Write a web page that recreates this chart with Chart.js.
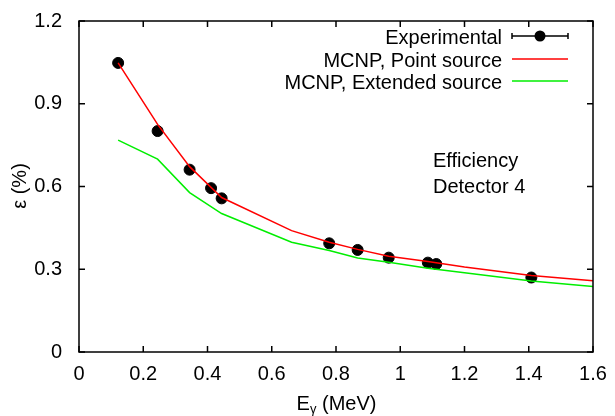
<!DOCTYPE html>
<html>
<head>
<meta charset="utf-8">
<script src="https://cdn.jsdelivr.net/npm/chart.js@4"></script>
<style>
  html, body { margin: 0; padding: 0; background: #fff; }
  #wrap { width: 615px; height: 416px; }
</style>
</head>
<body>
<div id="wrap"><canvas id="chart" width="615" height="416"></canvas></div>
<script>
// Eu-152 gamma lines (MeV) and measured efficiency (%)
const expEnergy = [0.1218, 0.2447, 0.3443, 0.4111, 0.4440, 0.7789, 0.8674, 0.9641, 1.0859, 1.1121, 1.4081];
const expEff    = [1.048, 0.801, 0.661, 0.594, 0.557, 0.394, 0.370, 0.342, 0.324, 0.319, 0.270];

// MCNP simulations
const mcnpEnergy   = [0.1218, 0.2447, 0.3443, 0.4440, 0.6617, 0.7789, 0.8674, 0.9641, 1.0859, 1.2, 1.4081, 1.6];
const pointSrc     = [1.048, 0.825, 0.672, 0.560, 0.440, 0.398, 0.372, 0.347, 0.328, 0.308, 0.277, 0.258];
const extendedSrc  = [0.768, 0.699, 0.578, 0.502, 0.398, 0.368, 0.341, 0.325, 0.304, 0.287, 0.257, 0.237];

const legendLabels = ['Experimental', 'MCNP, Point source', 'MCNP, Extended source'];
const FAMILY = '"Liberation Sans", Arial, sans-serif';
const FONT = '20px ' + FAMILY;

const toXY = (xs, ys) => xs.map((x, i) => ({ x: x, y: ys[i] }));
const fmt = v => String(Number(v.toFixed(1)));

const framePlugin = {
    id: 'frame',
    afterDraw(chart) {
        const ctx = chart.ctx;
        const a = chart.chartArea;
        const xs = chart.scales.x, ys = chart.scales.y;
        ctx.save();
        ctx.strokeStyle = '#000';
        ctx.lineWidth = 1.5;
        ctx.strokeRect(a.left, a.top, a.right - a.left, a.bottom - a.top);

        // inward ticks on all four sides
        const tl = 6;
        ctx.beginPath();
        xs.ticks.forEach(t => {
            const px = xs.getPixelForValue(t.value);
            ctx.moveTo(px, a.bottom); ctx.lineTo(px, a.bottom - tl);
            ctx.moveTo(px, a.top); ctx.lineTo(px, a.top + tl);
        });
        ys.ticks.forEach(t => {
            const py = ys.getPixelForValue(t.value);
            ctx.moveTo(a.left, py); ctx.lineTo(a.left + tl, py);
            ctx.moveTo(a.right, py); ctx.lineTo(a.right - tl, py);
        });
        ctx.stroke();

        // legend
        ctx.font = FONT;
        ctx.fillStyle = '#000';
        ctx.textAlign = 'right';
        ctx.textBaseline = 'alphabetic';
        const tx = 502, lx0 = 512, lx1 = 568;
        const base = [44, 66.5, 88.5];
        const rows = [36, 59, 81];
        legendLabels.forEach((lab, i) => ctx.fillText(lab, tx, base[i]));

        ctx.lineWidth = 1.5;
        ctx.strokeStyle = '#000';
        ctx.beginPath();
        ctx.moveTo(lx0, rows[0]); ctx.lineTo(lx1, rows[0]);
        ctx.moveTo(lx0, rows[0] - 3); ctx.lineTo(lx0, rows[0] + 3);
        ctx.moveTo(lx1, rows[0] - 3); ctx.lineTo(lx1, rows[0] + 3);
        ctx.stroke();
        ctx.beginPath();
        ctx.arc((lx0 + lx1) / 2, rows[0], 5.5, 0, Math.PI * 2);
        ctx.fill();

        ctx.strokeStyle = '#ff0000';
        ctx.beginPath(); ctx.moveTo(lx0, rows[1]); ctx.lineTo(lx1, rows[1]); ctx.stroke();
        ctx.strokeStyle = '#00ee00';
        ctx.beginPath(); ctx.moveTo(lx0, rows[2]); ctx.lineTo(lx1, rows[2]); ctx.stroke();

        // annotation
        ctx.textAlign = 'left';
        ctx.fillText('Efficiency', 433, 166.5);
        ctx.fillText('Detector 4', 433, 192.5);

        // axis titles
        ctx.textAlign = 'center';
        ctx.textBaseline = 'middle';
        ctx.save();
        ctx.translate(20, 186);
        ctx.rotate(-Math.PI / 2);
        ctx.fillText('\u03B5 (%)', 0, 0);
        ctx.restore();

        ctx.textBaseline = 'alphabetic';
        const cx = 336.5, by = 409.5;
        const SUB = '13px ' + FAMILY;
        const wE = ctx.measureText('E').width;
        ctx.font = SUB;
        const wG = ctx.measureText('\u03B3').width;
        ctx.font = FONT;
        const wR = ctx.measureText(' (MeV)').width;
        let x0 = cx - (wE + wG + wR) / 2;
        ctx.textAlign = 'left';
        ctx.fillText('E', x0, by);
        ctx.font = SUB;
        ctx.fillText('\u03B3', x0 + wE, by + 3);
        ctx.font = FONT;
        ctx.fillText(' (MeV)', x0 + wE + wG, by);
        ctx.restore();
    }
};

new Chart(document.getElementById('chart'), {
    type: 'scatter',
    data: {
        datasets: [
            {
                label: legendLabels[2],
                data: toXY(mcnpEnergy, extendedSrc),
                showLine: true,
                borderColor: '#00ee00',
                borderWidth: 1.5,
                pointRadius: 0,
                tension: 0
            },
            {
                label: legendLabels[1],
                data: toXY(mcnpEnergy, pointSrc),
                showLine: true,
                borderColor: '#ff0000',
                borderWidth: 1.5,
                pointRadius: 0,
                tension: 0
            },
            {
                label: legendLabels[0],
                data: toXY(expEnergy, expEff),
                showLine: false,
                backgroundColor: '#000',
                borderColor: '#000',
                pointRadius: 5.5,
                pointHoverRadius: 5.5
            }
        ]
    },
    options: {
        responsive: false,
        animation: false,
        layout: { padding: { left: 0, top: 20, right: 22, bottom: 0 } },
        scales: {
            x: {
                type: 'linear',
                min: 0, max: 1.6,
                grid: { display: false },
                border: { display: false },
                ticks: {
                    stepSize: 0.2,
                    color: '#000',
                    font: { family: FAMILY, size: 20 },
                    padding: 2,
                    maxRotation: 0,
                    callback: v => fmt(v)
                },
                afterFit: s => { s.height = 64; }
            },
            y: {
                type: 'linear',
                min: 0, max: 1.2,
                grid: { display: false },
                border: { display: false },
                ticks: {
                    stepSize: 0.3,
                    color: '#000',
                    font: { family: FAMILY, size: 20 },
                    padding: 9,
                    callback: v => fmt(v)
                },
                afterFit: s => { s.width = 79; }
            }
        },
        plugins: {
            legend: { display: false },
            tooltip: { enabled: false }
        }
    },
    plugins: [framePlugin]
});
</script>
</body>
</html>
